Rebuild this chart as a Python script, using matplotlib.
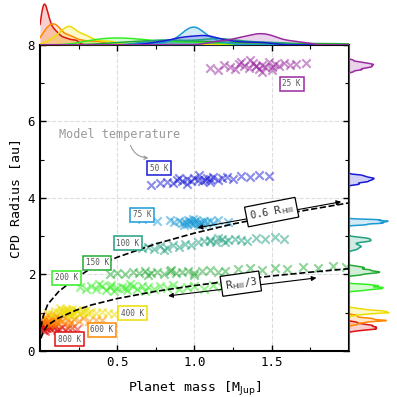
import numpy as np
import matplotlib
matplotlib.use("Agg")
import matplotlib.pyplot as plt

plt.rcParams['font.family'] = ['DejaVu Sans Mono']
plt.rcParams['mathtext.fontset'] = 'dejavusans'

# data: points (planet mass [M_Jup], CPD radius [au])
temps = ["800 K", "600 K", "400 K", "200 K", "150 K", "100 K", "75 K", "50 K", "25 K"]
colors = ["#dd1111", "#ff8800", "#eedd00", "#33ee22", "#22aa33", "#20a080", "#1a9ad6", "#1a1ad6", "#9a2aa0"]

m800 = [0.01,0.02,0.02,0.03,0.03,0.04,0.05,0.01,0.02,0.04,0.06,0.07,0.08,0.03,0.05,0.09,0.10,0.12,0.14,0.16,0.18,0.21,0.24,0.02,0.03,0.06,0.11,0.01]
r800 = [0.62,0.66,0.58,0.70,0.63,0.60,0.67,0.72,0.55,0.68,0.62,0.57,0.65,0.52,0.74,0.60,0.66,0.58,0.63,0.56,0.61,0.59,0.57,0.76,0.64,0.70,0.54,0.68]
m600 = [0.01,0.02,0.04,0.05,0.06,0.07,0.08,0.09,0.10,0.10,0.11,0.12,0.13,0.03,0.08,0.14,0.16,0.18,0.20,0.22,0.25,0.28,0.32,0.36,0.40,0.11,0.19,0.05]
r600 = [0.80,0.74,0.84,0.78,0.70,0.86,0.80,0.76,0.82,0.88,0.74,0.80,0.84,0.90,0.72,0.78,0.86,0.80,0.76,0.83,0.79,0.85,0.78,0.82,0.80,0.92,0.68,0.94]
m400 = [0.05,0.08,0.10,0.12,0.14,0.15,0.16,0.17,0.18,0.18,0.19,0.20,0.21,0.22,0.24,0.26,0.28,0.30,0.33,0.36,0.40,0.44,0.48,0.13,0.20,0.23,0.31,0.27]
r400 = [1.00,0.96,1.05,1.02,1.08,0.98,1.04,1.10,1.01,1.06,0.95,1.03,1.09,1.00,1.05,0.99,1.04,1.07,1.02,0.98,1.03,1.00,0.97,1.12,0.93,1.06,1.00,1.02]
m200 = [0.26,0.30,0.33,0.36,0.40,0.43,0.46,0.50,0.53,0.56,0.60,0.63,0.66,0.70,0.74,0.78,0.82,0.86,0.90,0.95,1.00,1.06,1.12,1.18,0.38,0.48,0.58,0.68,0.45,0.55]
r200 = [1.66,1.61,1.71,1.63,1.69,1.59,1.73,1.65,1.68,1.60,1.70,1.63,1.71,1.66,1.61,1.69,1.64,1.72,1.62,1.67,1.70,1.63,1.73,1.66,1.75,1.57,1.74,1.58,1.66,1.64]
m150 = [0.45,0.50,0.55,0.60,0.64,0.68,0.72,0.76,0.80,0.84,0.88,0.92,0.96,1.00,1.05,1.10,1.15,1.20,1.28,1.36,1.44,1.52,1.60,1.70,1.80,1.90,1.98,0.70,0.85,1.00]
r150 = [2.02,2.05,2.00,2.06,2.03,2.08,2.04,2.07,2.02,2.09,2.05,2.06,2.10,2.04,2.08,2.12,2.07,2.10,2.13,2.16,2.12,2.18,2.15,2.20,2.17,2.22,2.19,1.98,2.12,1.99]
m100 = [0.66,0.70,0.74,0.78,0.82,0.86,0.90,0.94,0.98,1.02,1.06,1.10,1.14,1.18,1.22,1.26,1.30,1.34,1.40,1.46,1.52,1.58,0.80,1.15,1.20,1.10]
r100 = [2.68,2.72,2.66,2.74,2.70,2.76,2.73,2.80,2.78,2.84,2.88,2.90,2.86,2.92,2.89,2.94,2.91,2.88,2.95,2.92,2.97,2.94,2.64,2.96,2.85,2.87]
m75 = [0.66,0.76,0.84,0.87,0.90,0.92,0.94,0.95,0.97,0.98,1.00,1.00,1.01,1.02,1.04,1.05,1.06,1.08,1.10,1.12,1.15,1.22,0.93,0.99,1.03,0.96]
r75 = [3.44,3.40,3.42,3.36,3.39,3.34,3.38,3.32,3.40,3.35,3.37,3.31,3.42,3.34,3.38,3.33,3.40,3.36,3.39,3.34,3.42,3.37,3.29,3.44,3.30,3.43]
m50 = [0.72,0.78,0.82,0.86,0.89,0.92,0.95,0.98,1.00,1.02,1.05,1.08,1.10,1.12,1.15,1.18,1.21,1.25,1.30,1.36,1.42,1.48,0.95,1.03,1.10,0.90,1.07]
r50 = [4.35,4.40,4.42,4.38,4.46,4.43,4.50,4.45,4.52,4.48,4.44,4.53,4.49,4.55,4.47,4.51,4.56,4.50,4.58,4.54,4.60,4.57,4.36,4.60,4.42,4.52,4.47]
m25 = [1.10,1.15,1.19,1.23,1.26,1.29,1.32,1.35,1.38,1.40,1.42,1.44,1.46,1.48,1.50,1.52,1.55,1.58,1.62,1.66,1.72,1.36,1.44,1.30,1.50,1.40]
r25 = [7.40,7.35,7.48,7.42,7.38,7.50,7.44,7.40,7.52,7.46,7.36,7.48,7.43,7.55,7.41,7.49,7.45,7.53,7.47,7.50,7.52,7.60,7.30,7.56,7.34,7.44]

masses = [m800, m600, m400, m200, m150, m100, m75, m50, m25]
radii = [r800, r600, r400, r200, r150, r100, r75, r50, r25]

# label positions (data coords) for temperature boxes
lab_x = [0.19, 0.40, 0.60, 0.17, 0.37, 0.57, 0.66, 0.77, 1.63]
lab_y = [0.31, 0.55, 0.99, 1.91, 2.30, 2.82, 3.56, 4.78, 6.98]

# Hill radius curves
hill_m = [0.006, 0.02, 0.05, 0.12, 0.23, 0.33, 0.50, 0.75, 1.00, 1.25, 1.50, 1.75, 2.00]
hill06_r = [0.62, 0.90, 1.22, 1.55, 1.90, 2.16, 2.45, 2.80, 3.08, 3.32, 3.52, 3.70, 3.87]
hill3_r = [0.33, 0.50, 0.68, 0.86, 1.06, 1.20, 1.37, 1.56, 1.71, 1.84, 1.96, 2.06, 2.15]


def kde(vals, grid, fac):
    vals = np.asarray(vals)
    bw = fac * vals.std() * len(vals) ** (-0.2)
    z = (grid[:, None] - vals[None, :]) / bw
    return np.exp(-0.5 * z**2).sum(1) / (len(vals) * bw * np.sqrt(2 * np.pi))


fig = plt.figure(figsize=(3.97, 3.97), dpi=100)
ax = fig.add_axes([0.1008, 0.1159, 0.778, 0.771])
axt = fig.add_axes([0.1008, 0.887, 0.778, 0.113], sharex=ax)
axr = fig.add_axes([0.8788, 0.1159, 0.116, 0.771], sharey=ax)

for m, r, c in zip(masses, radii, colors):
    ax.scatter(m, r, marker='x', s=36, color=c, alpha=0.5, linewidths=1.5, zorder=2)

for t, c, lx, ly in zip(temps, colors, lab_x, lab_y):
    ax.text(lx, ly, t, fontsize=5.5, color='#555555', ha='center', va='center', zorder=6,
            bbox=dict(boxstyle='square,pad=0.35', fc='white', ec=c, lw=1.1))

ax.plot(hill_m, hill06_r, ls='--', color='black', lw=1.2, zorder=4)
ax.plot(hill_m, hill3_r, ls='--', color='black', lw=1.2, zorder=4)

ax.annotate('', xy=(1.95, 3.90), xytext=(1.02, 3.22),
            arrowprops=dict(arrowstyle='<|-|>', color='black', lw=0.8,
                            mutation_scale=7, shrinkA=0, shrinkB=0), zorder=5)
ax.text(1.50, 3.63, r'0.6 $\mathrm{R_{Hill}}$', fontsize=7.5, color='#333333', rotation=11,
        ha='center', va='center', zorder=6,
        bbox=dict(boxstyle='square,pad=0.3', fc='white', ec='black', lw=0.9))
ax.annotate('', xy=(1.79, 1.91), xytext=(0.83, 1.44),
            arrowprops=dict(arrowstyle='<|-|>', color='black', lw=0.8,
                            mutation_scale=7, shrinkA=0, shrinkB=0), zorder=5)
ax.text(1.30, 1.76, r'$\mathrm{R_{Hill}}$/3', fontsize=7.5, color='#333333', rotation=8,
        ha='center', va='center', zorder=6,
        bbox=dict(boxstyle='square,pad=0.3', fc='white', ec='black', lw=0.9))

ax.text(0.12, 5.65, 'Model temperature', fontsize=8.5, color='#999999', ha='left', va='center')
ax.annotate('', xy=(0.72, 5.05), xytext=(0.58, 5.44),
            arrowprops=dict(arrowstyle='->', color='#999999', lw=0.8,
                            connectionstyle='arc3,rad=0.4', mutation_scale=6))

ax.set_xlim(0, 2)
ax.set_ylim(0, 8)
ax.set_xticks([0.5, 1.0, 1.5])
ax.set_xticks(np.arange(0.25, 2.0, 0.25), minor=True)
ax.set_yticks([0, 2, 4, 6, 8])
ax.set_yticks(np.arange(1, 8, 1), minor=True)
ax.tick_params(which='both', direction='in', top=True, right=True, labelsize=9)
ax.tick_params(which='major', length=4, width=1)
ax.tick_params(which='minor', length=3, width=0.8)
ax.grid(True, which='major', ls='--', color='#dddddd', lw=0.8, zorder=0)
for s in ax.spines.values():
    s.set_linewidth(1.5)
ax.set_xlabel(r'Planet mass [M$_\mathrm{Jup}$]', fontsize=9.5, labelpad=8)
ax.set_ylabel('CPD Radius [au]', fontsize=9.5, labelpad=4)

# marginal KDEs
gx = np.linspace(0, 2, 400)
gy = np.linspace(0, 8, 800)
top_max = 0
side_max = 0
for m, r, c in zip(masses, radii, colors):
    dx = kde(m, gx, 0.6)
    dy = kde(r, gy, 0.45)
    top_max = max(top_max, dx.max())
    side_max = max(side_max, dy.max())
    axt.fill_between(gx, 0, dx, color=c, alpha=0.2, lw=0)
    axt.plot(gx, dx, color=c, lw=1.1)
    axr.fill_betweenx(gy, 0, dy, color=c, alpha=0.2, lw=0)
    axr.plot(dy, gy, color=c, lw=1.1)

axt.set_ylim(0, top_max * 1.1)
axr.set_xlim(0, side_max * 1.15)
for a in (axt, axr):
    a.axis('off')

fig.savefig('out.png', dpi=100)
